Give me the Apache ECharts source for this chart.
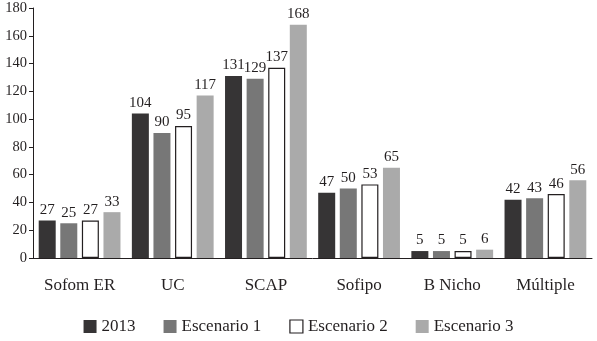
<!DOCTYPE html>
<html>
<head>
<meta charset="utf-8">
<script src="https://cdn.jsdelivr.net/npm/echarts@6/dist/echarts.min.js"></script>
<style>
  html, body { margin: 0; padding: 0; background: #fff; }
  #chart { width: 597px; height: 341px; }
</style>
</head>
<body>
<div id="chart"></div>
<script>
const categories = ["Sofom ER", "UC", "SCAP", "Sofipo", "B Nicho", "Múltiple"];
const seriesNames = ["2013", "Escenario 1", "Escenario 2", "Escenario 3"];
const values2013 = [27, 104, 131, 47, 5, 42];
const valuesEsc1 = [25, 90, 129, 50, 5, 43];
const valuesEsc2 = [27, 95, 137, 53, 5, 46];
const valuesEsc3 = [33, 117, 168, 65, 6, 56];

const font = "'Liberation Serif', 'DejaVu Serif', serif";
const textColor = "#231f20";

const styles = [
    { color: "#363435" },
    { color: "#777777" },
    { color: "#ffffff", borderColor: "#231f20", borderWidth: 1.2 },
    { color: "#aaaaaa" },
];

const chart = echarts.init(document.getElementById("chart"));

const makeSeries = (name, data, i) => ({
    name,
    type: "bar",
    data,
    barWidth: 17,
    barGap: "27%",
    itemStyle: styles[i],
    label: {
        show: true,
        position: "top",
        distance: 3,
        color: textColor,
        fontFamily: font,
        fontSize: 15,
    },
});

const option = {
    animation: false,
    textStyle: { fontFamily: font },
    grid: { left: 33, right: 5, top: 8, bottom: 83 },
    legend: {
        bottom: 1,
        left: "center",
        itemWidth: 13,
        itemHeight: 13,
        itemGap: 28,
        textStyle: { color: textColor, fontFamily: font, fontSize: 17 },
        data: seriesNames.map((n, i) => ({
            name: n,
            icon: "rect",
            itemStyle: styles[i],
        })),
    },
    xAxis: {
        type: "category",
        data: categories,
        axisLine: { lineStyle: { color: textColor, width: 1 } },
        axisTick: { show: false },
        axisLabel: {
            color: textColor,
            fontFamily: font,
            fontSize: 17,
            margin: 19,
        },
    },
    yAxis: {
        type: "value",
        min: 0,
        max: 180,
        interval: 20,
        axisLine: { show: true, lineStyle: { color: textColor, width: 1 } },
        axisTick: { show: true, length: 4, lineStyle: { color: textColor } },
        splitLine: { show: false },
        axisLabel: {
            color: textColor,
            fontFamily: font,
            fontSize: 14.5,
            margin: 6,
        },
    },
    series: [
        makeSeries(seriesNames[0], values2013, 0),
        makeSeries(seriesNames[1], valuesEsc1, 1),
        makeSeries(seriesNames[2], valuesEsc2, 2),
        makeSeries(seriesNames[3], valuesEsc3, 3),
    ],
};

chart.setOption(option);
</script>
</body>
</html>
